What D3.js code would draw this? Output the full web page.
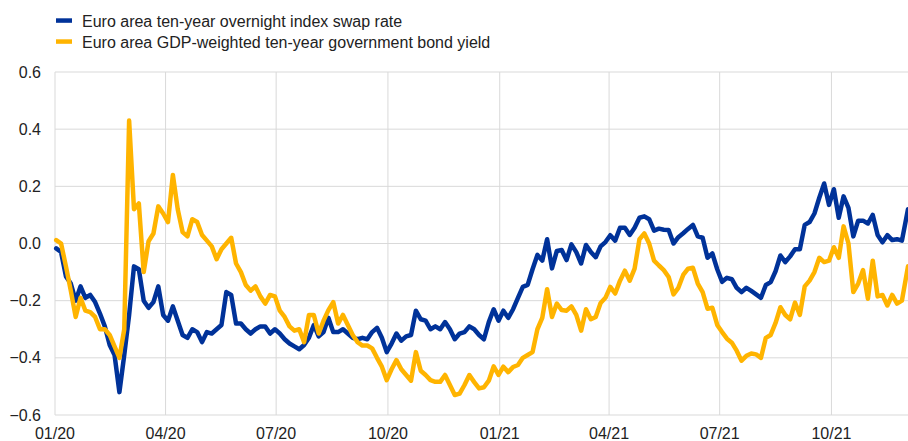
<!DOCTYPE html>
<html>
<head>
<meta charset="utf-8">
<script src="https://cdn.jsdelivr.net/npm/d3@7"></script>
<style>
  body { margin: 0; background: #fff; }
  svg { display: block; font-family: "Liberation Sans", Arial, sans-serif; }
</style>
</head>
<body>
<svg id="mainsvg" width="908" height="441"></svg>
<script>
// sampled every 4 days, values in percentage points
const dates = [
  "2020-01-02","2020-01-06","2020-01-10","2020-01-14","2020-01-18","2020-01-22","2020-01-26","2020-01-30",
  "2020-02-03","2020-02-07","2020-02-11","2020-02-15","2020-02-19","2020-02-23","2020-02-27",
  "2020-03-02","2020-03-06","2020-03-10","2020-03-14","2020-03-18","2020-03-22","2020-03-26","2020-03-30",
  "2020-04-03","2020-04-07","2020-04-11","2020-04-15","2020-04-19","2020-04-23","2020-04-27",
  "2020-05-01","2020-05-05","2020-05-09","2020-05-13","2020-05-17","2020-05-21","2020-05-25","2020-05-29",
  "2020-06-02","2020-06-06","2020-06-10","2020-06-14","2020-06-18","2020-06-22","2020-06-26","2020-06-30",
  "2020-07-04","2020-07-08","2020-07-12","2020-07-16","2020-07-20","2020-07-24","2020-07-28",
  "2020-08-01","2020-08-05","2020-08-09","2020-08-13","2020-08-17","2020-08-21","2020-08-25","2020-08-29",
  "2020-09-02","2020-09-06","2020-09-10","2020-09-14","2020-09-18","2020-09-22","2020-09-26","2020-09-30",
  "2020-10-04","2020-10-08","2020-10-12","2020-10-16","2020-10-20","2020-10-24","2020-10-28",
  "2020-11-01","2020-11-05","2020-11-09","2020-11-13","2020-11-17","2020-11-21","2020-11-25","2020-11-29",
  "2020-12-03","2020-12-07","2020-12-11","2020-12-15","2020-12-19","2020-12-23","2020-12-27","2020-12-31",
  "2021-01-04","2021-01-08","2021-01-12","2021-01-16","2021-01-20","2021-01-24","2021-01-28",
  "2021-02-01","2021-02-05","2021-02-09","2021-02-13","2021-02-17","2021-02-21","2021-02-25",
  "2021-03-01","2021-03-05","2021-03-09","2021-03-13","2021-03-17","2021-03-21","2021-03-25","2021-03-29",
  "2021-04-02","2021-04-06","2021-04-10","2021-04-14","2021-04-18","2021-04-22","2021-04-26","2021-04-30",
  "2021-05-04","2021-05-08","2021-05-12","2021-05-16","2021-05-20","2021-05-24","2021-05-28",
  "2021-06-01","2021-06-05","2021-06-09","2021-06-13","2021-06-17","2021-06-21","2021-06-25","2021-06-29",
  "2021-07-03","2021-07-07","2021-07-11","2021-07-15","2021-07-19","2021-07-23","2021-07-27","2021-07-31",
  "2021-08-04","2021-08-08","2021-08-12","2021-08-16","2021-08-20","2021-08-24","2021-08-28",
  "2021-09-01","2021-09-05","2021-09-09","2021-09-13","2021-09-17","2021-09-21","2021-09-25","2021-09-29",
  "2021-10-03","2021-10-07","2021-10-11","2021-10-15","2021-10-19","2021-10-23","2021-10-27","2021-10-31",
  "2021-11-04","2021-11-08","2021-11-12","2021-11-16","2021-11-20","2021-11-24","2021-11-28",
  "2021-12-03"
]

const oisRate = [
  -0.017,-0.03,-0.115,-0.14,-0.20,-0.15,-0.19,-0.18,-0.205,-0.245,
  -0.29,-0.355,-0.39,-0.52,-0.39,-0.25,-0.08,-0.09,-0.20,-0.225,
  -0.205,-0.15,-0.25,-0.27,-0.22,-0.27,-0.32,-0.33,-0.30,-0.31,
  -0.345,-0.31,-0.315,-0.30,-0.285,-0.17,-0.18,-0.28,-0.28,-0.30,
  -0.315,-0.30,-0.29,-0.29,-0.315,-0.30,-0.315,-0.335,-0.35,-0.36,
  -0.37,-0.355,-0.33,-0.285,-0.325,-0.31,-0.26,-0.31,-0.31,-0.30,
  -0.315,-0.33,-0.335,-0.33,-0.335,-0.31,-0.295,-0.33,-0.38,-0.35,
  -0.315,-0.34,-0.325,-0.32,-0.235,-0.265,-0.27,-0.30,-0.29,-0.30,
  -0.275,-0.30,-0.335,-0.315,-0.31,-0.29,-0.30,-0.32,-0.335,-0.275,
  -0.23,-0.27,-0.235,-0.26,-0.23,-0.19,-0.152,-0.145,-0.09,-0.04,
  -0.06,0.015,-0.087,-0.026,-0.023,-0.058,-0.003,-0.03,-0.07,-0.005,
  -0.03,-0.048,-0.01,0.005,0.029,0.01,0.055,0.055,0.03,0.055,
  0.09,0.095,0.085,0.045,0.052,0.048,0.047,0.0,0.022,0.036,
  0.051,0.065,0.025,0.02,-0.05,-0.035,-0.09,-0.134,-0.12,-0.125,
  -0.155,-0.17,-0.155,-0.166,-0.178,-0.19,-0.145,-0.135,-0.097,-0.042,
  -0.065,-0.045,-0.02,-0.02,0.065,0.075,0.105,0.16,0.21,0.135,
  0.19,0.09,0.165,0.125,0.025,0.08,0.08,0.07,0.10,0.03,
  0.004,0.029,0.012,0.015,0.01,0.12
]

const bondYield = [
  0.012,0.0,-0.08,-0.165,-0.257,-0.19,-0.235,-0.24,-0.257,-0.30,
  -0.30,-0.32,-0.36,-0.40,-0.30,0.43,0.12,0.14,-0.10,0.008,
  0.035,0.13,0.105,0.075,0.24,0.12,0.04,0.025,0.085,0.075,
  0.03,0.01,-0.01,-0.055,-0.02,0.0,0.02,-0.07,-0.10,-0.145,
  -0.165,-0.15,-0.185,-0.21,-0.18,-0.185,-0.235,-0.257,-0.29,-0.305,
  -0.30,-0.345,-0.25,-0.25,-0.315,-0.27,-0.233,-0.205,-0.28,-0.25,
  -0.285,-0.32,-0.345,-0.357,-0.357,-0.367,-0.40,-0.431,-0.478,-0.44,
  -0.408,-0.44,-0.46,-0.48,-0.38,-0.445,-0.46,-0.478,-0.484,-0.484,
  -0.46,-0.495,-0.53,-0.525,-0.495,-0.46,-0.485,-0.507,-0.503,-0.48,
  -0.43,-0.46,-0.431,-0.45,-0.432,-0.425,-0.40,-0.39,-0.38,-0.30,
  -0.26,-0.16,-0.257,-0.21,-0.233,-0.235,-0.22,-0.25,-0.305,-0.23,
  -0.265,-0.257,-0.208,-0.19,-0.152,-0.175,-0.13,-0.095,-0.13,-0.088,
  0.015,0.035,0.0,-0.06,-0.077,-0.093,-0.117,-0.178,-0.155,-0.11,
  -0.088,-0.085,-0.14,-0.17,-0.228,-0.225,-0.285,-0.31,-0.333,-0.347,
  -0.375,-0.41,-0.393,-0.385,-0.388,-0.40,-0.33,-0.32,-0.278,-0.223,
  -0.25,-0.265,-0.207,-0.25,-0.15,-0.13,-0.10,-0.05,-0.065,-0.06,
  -0.013,-0.05,0.06,0.0,-0.17,-0.14,-0.093,-0.193,-0.06,-0.185,
  -0.18,-0.217,-0.18,-0.21,-0.2,-0.08
]

const yTicks = [-0.6, -0.4, -0.2, 0.0, 0.2, 0.4, 0.6]
const xTicks = ["2020-01-01","2020-04-01","2020-07-01","2020-10-01","2021-01-01","2021-04-01","2021-07-01","2021-10-01"]
const seriesNames = ["Euro area ten-year overnight index swap rate", "Euro area GDP-weighted ten-year government bond yield"]
const seriesColors = ["#003299", "#ffb400"]

const parse = d3.utcParse("%Y-%m-%d")
const fmt = d3.utcFormat("%m/%y")

const plotLeft = 55, plotRight = 908, plotTop = 72, plotBottom = 415

const x = d3.scaleUtc()
    .domain([parse("2020-01-01"), parse("2021-12-03")])
    .range([plotLeft, plotRight])
const y = d3.scaleLinear()
    .domain([-0.6, 0.6])
    .range([plotBottom, plotTop])

const svg = d3.select("#mainsvg")

// grid
const grid = svg.append("g")
grid.selectAll(".hg").data(yTicks).enter().append("line")
    .attr("x1", plotLeft).attr("x2", plotRight)
    .attr("y1", d => y(d)).attr("y2", d => y(d))
    .attr("stroke", "#d9d9d9").attr("stroke-width", 1)
grid.selectAll(".vg").data(xTicks).enter().append("line")
    .attr("x1", d => x(parse(d))).attr("x2", d => x(parse(d)))
    .attr("y1", plotTop).attr("y2", plotBottom)
    .attr("stroke", "#d9d9d9").attr("stroke-width", 1)

// y labels
svg.append("g").selectAll("text").data(yTicks).enter().append("text")
    .attr("x", 41)
    .attr("y", d => y(d))
    .attr("dy", "0.35em")
    .attr("text-anchor", "end")
    .attr("font-size", "16px")
    .attr("fill", "#222")
    .text(d => d3.format(".1f")(d))

// x labels
svg.append("g").selectAll("text").data(xTicks).enter().append("text")
    .attr("x", d => x(parse(d)))
    .attr("y", 439)
    .attr("text-anchor", "middle")
    .attr("font-size", "16px")
    .attr("fill", "#222")
    .text(d => fmt(parse(d)))

// lines
const series = [oisRate, bondYield]
const line = d3.line()
    .x((d, i) => x(parse(dates[i])))
    .y(d => y(d))

series.forEach((s, k) => {
    svg.append("path")
        .datum(s)
        .attr("d", line)
        .attr("fill", "none")
        .attr("stroke", seriesColors[k])
        .attr("stroke-width", 4.5)
        .attr("stroke-linejoin", "round")
        .attr("stroke-linecap", "round")
})

// legend
const legend = svg.append("g")
seriesNames.forEach((name, k) => {
    legend.append("rect")
        .attr("x", 56).attr("y", 18.3 + k * 21)
        .attr("width", 16).attr("height", 4.5)
        .attr("fill", seriesColors[k])
    legend.append("text")
        .attr("x", 82).attr("y", 26.5 + k * 21)
        .attr("font-size", "16px")
        .attr("fill", "#222")
        .text(name)
})
</script>
</body>
</html>
